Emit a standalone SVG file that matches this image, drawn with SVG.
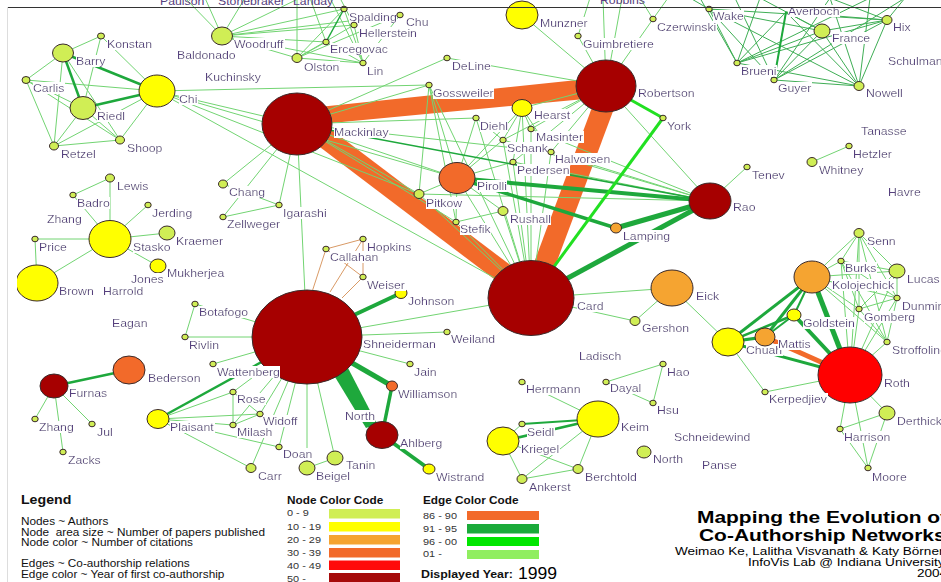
<svg xmlns="http://www.w3.org/2000/svg" width="941" height="582" viewBox="0 0 941 582">
<defs>
<filter id="bg" x="0" y="0" width="1" height="1"><feFlood flood-color="#ffffff"/><feComposite in="SourceGraphic" operator="over"/></filter>
<clipPath id="clipL"><rect x="17" y="0" width="924" height="582"/></clipPath>
<style>
text { font-family: "Liberation Sans", Arial, sans-serif; }
.l, .lt { font-size: 10.5px; fill: #56407e; transform: scaleX(1.17); transform-box: fill-box; transform-origin: 0 0; }
.l { filter: url(#bg); }
.k { font-size: 10px; fill: #111; transform: scaleX(1.18); transform-box: fill-box; transform-origin: 0 0; }
.kh { font-size: 10px; font-weight: bold; fill: #111; transform: scaleX(1.18); transform-box: fill-box; transform-origin: 0 0; }
.ks { font-size: 9.5px; fill: #333; transform: scaleX(1.15); transform-box: fill-box; transform-origin: 0 0; }
.ttl { font-size: 16.5px; font-weight: bold; fill: #000; transform: scaleX(1.27); transform-box: fill-box; transform-origin: 0 0; }
.sub { font-size: 11.5px; fill: #000; transform: scaleX(1.18); transform-box: fill-box; transform-origin: 0 0; }
.e { stroke: #72d472; stroke-width: 1; }
.e2 { stroke: #3fae55; stroke-width: 1; }
.g { stroke: #1ea83c; }
.b { stroke: #22e022; }
.o { stroke: #f26a2a; }
.t { stroke: #d99a66; stroke-width: 1; }
ellipse { stroke: #3a2a2a; stroke-width: 1; }
.c0 { fill: #d0ee55; } .c1 { fill: #ffff00; } .c2 { fill: #f5a431; }
.c3 { fill: #f26a2a; } .c4 { fill: #ff0000; } .c5 { fill: #a60000; }
</style>
</defs>
<rect width="941" height="582" fill="#ffffff"/>

<!-- connectors -->
<g id="connectors" fill="none">
  <!-- 86-90: thick collaboration bands -->
  <g id="e-orange">
    <polygon points="300,109 606,77 606,97 300,126" fill="#f26a2a"/>
    <line class="o" x1="312" y1="128" x2="510" y2="278" stroke-width="21"/>
    <line class="o" x1="606" y1="100" x2="535" y2="290" stroke-width="21"/>
    <line class="o" x1="765" y1="337" x2="850" y2="375" stroke-width="5"/>
  </g>
  <g id="e-tan" class="t">
    <line x1="326" y1="249" x2="363" y2="239"/><line x1="326" y1="249" x2="363" y2="277"/>
    <line x1="363" y1="239" x2="363" y2="277"/><line x1="326" y1="249" x2="312" y2="292"/>
    <line x1="363" y1="239" x2="330" y2="292"/><line x1="363" y1="277" x2="342" y2="298"/>
  </g>
  <!-- thin edges -->
  <g id="e-thin" class="e">
    <line x1="101" y1="36" x2="63" y2="53"/><line x1="101" y1="36" x2="157" y2="91"/>
    <line x1="101" y1="36" x2="83" y2="108"/><line x1="63" y1="53" x2="26" y2="80"/>
    <line x1="63" y1="53" x2="54" y2="146"/><line x1="63" y1="53" x2="120" y2="140"/>
    <line x1="26" y1="80" x2="157" y2="91"/><line x1="26" y1="80" x2="54" y2="146"/>
    <line x1="26" y1="80" x2="120" y2="140"/><line x1="26" y1="80" x2="83" y2="108"/>
    <line x1="83" y1="108" x2="54" y2="146"/><line x1="83" y1="108" x2="120" y2="140"/>
    <line x1="54" y1="146" x2="120" y2="140"/><line x1="54" y1="146" x2="157" y2="91"/>
    <line x1="120" y1="140" x2="157" y2="91"/>
    <line x1="157" y1="91" x2="429" y2="85"/><line x1="157" y1="91" x2="297" y2="124"/>
    <line x1="157" y1="91" x2="457" y2="178"/><line x1="157" y1="91" x2="419" y2="194"/>
    <line x1="157" y1="91" x2="531" y2="298"/>
    <line x1="222" y1="36" x2="185" y2="-2"/><line x1="222" y1="36" x2="205" y2="-2"/>
    <line x1="222" y1="36" x2="245" y2="-2"/><line x1="222" y1="36" x2="300" y2="-2"/>
    <line x1="222" y1="36" x2="297" y2="58"/><line x1="222" y1="36" x2="326" y2="42"/>
    <line x1="222" y1="36" x2="354" y2="25"/><line x1="222" y1="36" x2="344" y2="9"/>
    <line x1="222" y1="36" x2="400" y2="15"/><line x1="222" y1="36" x2="363" y2="63"/>
    <line x1="297" y1="58" x2="297" y2="-2"/><line x1="297" y1="58" x2="344" y2="9"/>
    <line x1="297" y1="58" x2="400" y2="15"/><line x1="297" y1="58" x2="354" y2="25"/>
    <line x1="297" y1="58" x2="326" y2="42"/><line x1="297" y1="58" x2="363" y2="63"/>
    <line x1="344" y1="9" x2="363" y2="63"/><line x1="400" y1="15" x2="363" y2="63"/>
    <line x1="354" y1="25" x2="363" y2="63"/><line x1="326" y1="42" x2="363" y2="63"/>
    <line x1="354" y1="25" x2="340" y2="-2"/><line x1="363" y1="63" x2="330" y2="-2"/>
    <line x1="326" y1="42" x2="310" y2="-2"/>
    <line x1="297" y1="124" x2="223" y2="184"/><line x1="297" y1="124" x2="223" y2="217"/>
    <line x1="297" y1="124" x2="279" y2="205"/><line x1="297" y1="124" x2="307" y2="337"/>
    <line x1="297" y1="124" x2="447" y2="58"/><line x1="297" y1="124" x2="429" y2="85"/>
    <line x1="297" y1="124" x2="419" y2="194"/><line x1="297" y1="124" x2="457" y2="178"/>
    <line x1="297" y1="124" x2="456" y2="222"/><line x1="297" y1="124" x2="551" y2="152"/>
    <line x1="297" y1="124" x2="476" y2="118"/>
    <line x1="223" y1="184" x2="279" y2="205"/><line x1="223" y1="217" x2="279" y2="205"/>
    <line x1="606" y1="86" x2="522" y2="15"/><line x1="606" y1="86" x2="578" y2="36"/>
    <line x1="606" y1="86" x2="653" y2="19"/><line x1="606" y1="86" x2="603" y2="-2"/>
    <line x1="606" y1="86" x2="622" y2="-2"/><line x1="606" y1="86" x2="447" y2="58"/>
    <line x1="606" y1="86" x2="522" y2="108"/><line x1="606" y1="86" x2="531" y2="129"/>
    <line x1="606" y1="86" x2="551" y2="152"/><line x1="606" y1="86" x2="513" y2="162"/>
    <line x1="606" y1="86" x2="503" y2="140"/><line x1="606" y1="86" x2="710" y2="201"/>
    <line x1="653" y1="19" x2="640" y2="-2"/><line x1="653" y1="19" x2="668" y2="-2"/>
    <line x1="578" y1="36" x2="590" y2="-2"/>
    <line x1="522" y1="108" x2="531" y2="129"/><line x1="522" y1="108" x2="503" y2="140"/>
    <line x1="522" y1="108" x2="513" y2="162"/><line x1="522" y1="108" x2="457" y2="178"/>
    <line x1="522" y1="108" x2="531" y2="298"/><line x1="522" y1="108" x2="551" y2="152"/>
    <line x1="476" y1="118" x2="503" y2="140"/><line x1="476" y1="118" x2="457" y2="178"/>
    <line x1="476" y1="118" x2="531" y2="298"/>
    <line x1="531" y1="129" x2="531" y2="298"/><line x1="503" y1="140" x2="531" y2="298"/>
    <line x1="513" y1="162" x2="531" y2="298"/><line x1="551" y1="152" x2="531" y2="298"/>
    <line x1="429" y1="85" x2="419" y2="194"/><line x1="429" y1="85" x2="457" y2="178"/>
    <line x1="429" y1="85" x2="531" y2="298"/><line x1="429" y1="85" x2="456" y2="222"/>
    <line x1="457" y1="178" x2="419" y2="194"/><line x1="457" y1="178" x2="456" y2="222"/>
    <line x1="457" y1="178" x2="531" y2="298"/><line x1="457" y1="178" x2="503" y2="211"/>
    <line x1="457" y1="178" x2="503" y2="140"/><line x1="457" y1="178" x2="513" y2="162"/>
    <line x1="419" y1="194" x2="531" y2="298"/><line x1="419" y1="194" x2="710" y2="201"/>
    <line x1="456" y1="222" x2="503" y2="211"/><line x1="456" y1="222" x2="531" y2="298"/>
    <line x1="503" y1="211" x2="531" y2="298"/>
    <line x1="710" y1="201" x2="513" y2="162"/><line x1="710" y1="201" x2="551" y2="152"/>
    <line x1="710" y1="201" x2="503" y2="140"/><line x1="710" y1="201" x2="531" y2="129"/>
    <line x1="710" y1="201" x2="747" y2="167"/>
    <line x1="849" y1="146" x2="812" y2="162"/>
    <line x1="110" y1="239" x2="110" y2="178"/><line x1="110" y1="178" x2="73" y2="195"/>
    <line x1="73" y1="195" x2="110" y2="239"/><line x1="110" y1="239" x2="148" y2="205"/>
    <line x1="110" y1="239" x2="167" y2="233"/><line x1="110" y1="239" x2="158" y2="266"/>
    <line x1="110" y1="239" x2="37" y2="283"/><line x1="110" y1="239" x2="35" y2="239"/>
    <line x1="35" y1="239" x2="37" y2="283"/>
    <line x1="307" y1="337" x2="195" y2="304"/><line x1="195" y1="304" x2="185" y2="337"/>
    <line x1="185" y1="337" x2="307" y2="337"/><line x1="213" y1="364" x2="307" y2="337"/>
    <line x1="307" y1="337" x2="233" y2="392"/><line x1="307" y1="337" x2="260" y2="414"/>
    <line x1="307" y1="337" x2="233" y2="425"/><line x1="307" y1="337" x2="279" y2="447"/>
    <line x1="307" y1="337" x2="251" y2="468"/><line x1="307" y1="337" x2="307" y2="468"/>
    <line x1="307" y1="337" x2="335" y2="458"/><line x1="307" y1="337" x2="410" y2="364"/>
    <line x1="307" y1="337" x2="447" y2="332"/><line x1="307" y1="337" x2="531" y2="298"/>
    <line x1="158" y1="419" x2="233" y2="392"/><line x1="158" y1="419" x2="260" y2="414"/>
    <line x1="158" y1="419" x2="233" y2="425"/><line x1="158" y1="419" x2="279" y2="447"/>
    <line x1="158" y1="419" x2="251" y2="468"/>
    <line x1="233" y1="392" x2="233" y2="425"/><line x1="233" y1="392" x2="260" y2="414"/>
    <line x1="233" y1="425" x2="260" y2="414"/><line x1="335" y1="458" x2="307" y2="468"/>
    <line x1="54" y1="386" x2="35" y2="419"/><line x1="54" y1="386" x2="92" y2="424"/>
    <line x1="54" y1="386" x2="63" y2="452"/>
    <line x1="531" y1="298" x2="672" y2="288"/><line x1="531" y1="298" x2="635" y2="321"/>
    <line x1="672" y1="288" x2="635" y2="321"/><line x1="672" y1="288" x2="728" y2="342"/>
    <line x1="728" y1="342" x2="765" y2="392"/><line x1="765" y1="392" x2="850" y2="375"/>
    <line x1="812" y1="277" x2="859" y2="233"/><line x1="812" y1="277" x2="841" y2="261"/>
    <line x1="812" y1="277" x2="897" y2="271"/><line x1="812" y1="277" x2="897" y2="298"/>
    <line x1="812" y1="277" x2="859" y2="309"/><line x1="812" y1="277" x2="887" y2="342"/>
    <line x1="859" y1="233" x2="841" y2="261"/><line x1="859" y1="233" x2="897" y2="271"/>
    <line x1="859" y1="233" x2="897" y2="298"/><line x1="859" y1="233" x2="859" y2="309"/>
    <line x1="859" y1="233" x2="887" y2="342"/>
    <line x1="841" y1="261" x2="897" y2="271"/><line x1="841" y1="261" x2="897" y2="298"/>
    <line x1="841" y1="261" x2="859" y2="309"/><line x1="841" y1="261" x2="887" y2="342"/>
    <line x1="897" y1="271" x2="897" y2="298"/><line x1="897" y1="271" x2="859" y2="309"/>
    <line x1="897" y1="298" x2="859" y2="309"/><line x1="897" y1="298" x2="887" y2="342"/>
    <line x1="859" y1="309" x2="887" y2="342"/>
    <line x1="850" y1="375" x2="859" y2="233"/><line x1="850" y1="375" x2="841" y2="261"/>
    <line x1="850" y1="375" x2="859" y2="309"/><line x1="850" y1="375" x2="897" y2="298"/>
    <line x1="850" y1="375" x2="887" y2="342"/><line x1="850" y1="375" x2="897" y2="271"/>
    <line x1="850" y1="375" x2="887" y2="413"/><line x1="850" y1="375" x2="840" y2="429"/>
    <line x1="850" y1="375" x2="868" y2="468"/><line x1="887" y1="413" x2="840" y2="429"/>
    <line x1="887" y1="413" x2="868" y2="468"/><line x1="840" y1="429" x2="868" y2="468"/>
    <line x1="598" y1="419" x2="522" y2="382"/><line x1="598" y1="419" x2="578" y2="469"/>
    <line x1="598" y1="419" x2="522" y2="479"/><line x1="503" y1="441" x2="522" y2="424"/>
    <line x1="503" y1="441" x2="522" y2="479"/><line x1="503" y1="441" x2="578" y2="469"/>
    <line x1="522" y1="479" x2="578" y2="469"/>
    <line x1="663" y1="364" x2="606" y2="382"/><line x1="663" y1="364" x2="653" y2="403"/>
    <line x1="606" y1="382" x2="653" y2="403"/>
  </g>
  <!-- dense group at the top right -->
  <g id="e-thin-dark" class="e2">
    <line x1="709" y1="9" x2="737" y2="63"/><line x1="709" y1="9" x2="774" y2="80"/>
    <line x1="709" y1="9" x2="822" y2="31"/><line x1="709" y1="9" x2="887" y2="20"/>
    <line x1="709" y1="9" x2="859" y2="86"/>
    <line x1="786" y1="12" x2="737" y2="63"/><line x1="786" y1="12" x2="859" y2="86"/>
    <line x1="786" y1="12" x2="887" y2="20"/><line x1="786" y1="12" x2="822" y2="31"/>
    <line x1="822" y1="31" x2="737" y2="63"/><line x1="822" y1="31" x2="774" y2="80"/>
    <line x1="822" y1="31" x2="859" y2="86"/><line x1="822" y1="31" x2="887" y2="20"/>
    <line x1="887" y1="20" x2="737" y2="63"/><line x1="887" y1="20" x2="774" y2="80"/>
    <line x1="887" y1="20" x2="859" y2="86"/>
    <line x1="737" y1="63" x2="859" y2="86"/><line x1="774" y1="80" x2="859" y2="86"/>
    <line x1="737" y1="63" x2="700" y2="-2"/><line x1="737" y1="63" x2="760" y2="-2"/>
    <line x1="774" y1="80" x2="735" y2="-2"/><line x1="774" y1="80" x2="830" y2="-2"/>
    <line x1="859" y1="86" x2="830" y2="-2"/><line x1="859" y1="86" x2="870" y2="-2"/>
    <line x1="822" y1="31" x2="760" y2="-2"/><line x1="887" y1="20" x2="830" y2="-2"/>
    <line x1="887" y1="20" x2="905" y2="-2"/><line x1="737" y1="63" x2="870" y2="-2"/>
    <line x1="709" y1="9" x2="690" y2="-2"/><line x1="774" y1="80" x2="905" y2="-2"/>
  </g>
  <!-- 91-95: dark green -->
  <g id="e-green" class="g">
    <line x1="63" y1="53" x2="83" y2="108" stroke-width="2.5"/>
    <line x1="63" y1="53" x2="157" y2="91" stroke-width="2.5"/>
    <line x1="83" y1="108" x2="157" y2="91" stroke-width="2.5"/>
    <line x1="326" y1="42" x2="344" y2="9" stroke-width="1.5"/>
    <line x1="786" y1="12" x2="774" y2="80" stroke-width="2"/>
    <line x1="297" y1="124" x2="710" y2="201" stroke-width="1.6"/>
    <line x1="457" y1="178" x2="710" y2="201" stroke-width="4"/>
    <line x1="457" y1="178" x2="616" y2="228" stroke-width="3.5"/>
    <line x1="616" y1="228" x2="710" y2="201" stroke-width="5"/>
    <line x1="531" y1="298" x2="710" y2="201" stroke-width="5"/>
    <line x1="307" y1="337" x2="158" y2="419" stroke-width="2.5"/>
    <line x1="307" y1="337" x2="401" y2="293" stroke-width="4"/>
    <line x1="307" y1="337" x2="392" y2="386" stroke-width="5"/>
    <line x1="392" y1="386" x2="382" y2="435" stroke-width="3.5"/>
    <line x1="382" y1="435" x2="429" y2="469" stroke-width="4"/>
    <polygon points="332,372 348,368 377,424 366,428" fill="#1ea83c" stroke="none"/>
    <line x1="54" y1="386" x2="129" y2="370" stroke-width="2.5"/>
    <line x1="728" y1="342" x2="812" y2="277" stroke-width="3"/>
    <line x1="728" y1="342" x2="794" y2="315" stroke-width="2.5"/>
    <line x1="728" y1="342" x2="765" y2="337" stroke-width="3"/>
    <line x1="765" y1="337" x2="812" y2="277" stroke-width="3"/>
    <line x1="765" y1="337" x2="794" y2="315" stroke-width="2"/>
    <line x1="794" y1="315" x2="812" y2="277" stroke-width="2"/>
    <line x1="794" y1="315" x2="850" y2="375" stroke-width="4"/>
    <line x1="812" y1="277" x2="850" y2="375" stroke-width="5"/>
    <line x1="728" y1="342" x2="850" y2="375" stroke-width="3"/>
    <line x1="598" y1="419" x2="503" y2="441" stroke-width="2.5"/>
    <line x1="598" y1="419" x2="522" y2="424" stroke-width="1.8"/>
  </g>
  <!-- 96-00: bright green -->
  <g id="e-bright" class="b">
    <line x1="606" y1="86" x2="663" y2="118" stroke-width="3"/>
    <line x1="663" y1="118" x2="531" y2="298" stroke-width="3"/>
  </g>
</g>

<!-- author nodes -->
<g id="nodes">
  <g id="n-mackinlay"><ellipse class="c5" cx="297" cy="124" rx="35" ry="31"/><text class="l" x="334" y="136">Mackinlay</text></g>
  <g id="n-robertson"><ellipse class="c5" cx="606" cy="86" rx="30" ry="26"/><text class="l" x="638" y="97">Robertson</text></g>
  <g id="n-card"><ellipse class="c5" cx="531" cy="298" rx="43" ry="37.5"/><text class="l" x="577" y="310">Card</text></g>
  <g id="n-shneiderman"><ellipse class="c5" cx="307" cy="337" rx="55" ry="47"/><text class="l" x="363" y="348">Shneiderman</text></g>
  <g id="n-rao"><ellipse class="c5" cx="710" cy="201" rx="21" ry="18"/><text class="l" x="733" y="211">Rao</text></g>
  <g id="n-ahlberg"><ellipse class="c5" cx="382" cy="435" rx="16" ry="13.5"/><text class="l" x="400" y="447">Ahlberg</text></g>
  <g id="n-furnas"><ellipse class="c5" cx="54" cy="386" rx="14" ry="12"/><text class="l" x="69" y="397">Furnas</text></g>
  <g id="n-roth"><ellipse class="c4" cx="850" cy="375" rx="32" ry="28"/><text class="l" x="884" y="387">Roth</text></g>
  <g id="n-pirolli"><ellipse class="c3" cx="457" cy="178" rx="18" ry="15.5"/><text class="l" x="477" y="190">Pirolli</text></g>
  <g id="n-bederson"><ellipse class="c3" cx="129" cy="370" rx="16" ry="14"/><text class="l" x="148" y="382">Bederson</text></g>
  <g id="n-williamson"><ellipse class="c3" cx="392" cy="386" rx="5.5" ry="5"/><text class="l" x="398" y="398">Williamson</text></g>
  <g id="n-eick"><ellipse class="c2" cx="672" cy="288" rx="21" ry="18"/><text class="l" x="696" y="300">Eick</text></g>
  <g id="n-kolojechick"><ellipse class="c2" cx="812" cy="277" rx="18" ry="16"/><text class="l" x="832" y="289">Kolojechick</text></g>
  <g id="n-lamping"><ellipse class="c2" cx="616" cy="228" rx="5.5" ry="5"/><text class="l" x="623" y="240">Lamping</text></g>
  <g id="n-chi"><ellipse class="c1" cx="157" cy="91" rx="18" ry="16"/><text class="l" x="179" y="103">Chi</text></g>
  <g id="n-stasko"><ellipse class="c1" cx="110" cy="239" rx="21" ry="18.5"/><text class="l" x="133" y="251">Stasko</text></g>
  <g id="n-brown"><ellipse class="c1" cx="37" cy="283" rx="21" ry="18" clip-path="url(#clipL)"/><text class="l" x="59" y="295">Brown</text></g>
  <g id="n-munzner"><ellipse class="c1" cx="522" cy="15" rx="16" ry="14"/><text class="l" x="540" y="27">Munzner</text></g>
  <g id="n-hearst"><ellipse class="c1" cx="522" cy="108" rx="10" ry="8.5"/><text class="l" x="534" y="119">Hearst</text></g>
  <g id="n-keim"><ellipse class="c1" cx="598" cy="419" rx="21" ry="18"/><text class="l" x="621" y="431">Keim</text></g>
  <g id="n-kriegel"><ellipse class="c1" cx="503" cy="441" rx="16" ry="14"/><text class="l" x="521" y="453">Kriegel</text></g>
  <g id="n-chuah"><ellipse class="c1" cx="728" cy="342" rx="16" ry="14"/><text class="l" x="746" y="354">Chuah</text></g>
  <g id="n-mattis"><ellipse class="c2" cx="765" cy="337" rx="10" ry="9"/><text class="l" x="778" y="348">Mattis</text></g>
  <g id="n-goldstein"><ellipse class="c1" cx="794" cy="315" rx="7" ry="6"/><text class="l" x="803" y="327">Goldstein</text></g>
  <g id="n-plaisant"><ellipse class="c1" cx="158" cy="419" rx="11" ry="9.5"/><text class="l" x="170" y="431">Plaisant</text></g>
  <g id="n-johnson"><ellipse class="c1" cx="401" cy="293" rx="6" ry="5.5"/><text class="l" x="408" y="305">Johnson</text></g>
  <g id="n-wistrand"><ellipse class="c1" cx="429" cy="469" rx="6" ry="5"/><text class="l" x="436" y="481">Wistrand</text></g>
  <g id="n-mukherjea"><ellipse class="c1" cx="158" cy="266" rx="8" ry="7"/><text class="l" x="167" y="277">Mukherjea</text></g>
  <g id="n-barry"><ellipse class="c0" cx="63" cy="53" rx="10.5" ry="9"/><text class="l" x="76" y="65">Barry</text></g>
  <g id="n-riedl"><ellipse class="c0" cx="83" cy="108" rx="13" ry="11.5"/><text class="l" x="97" y="120">Riedl</text></g>
  <g id="n-woodruff"><ellipse class="c0" cx="222" cy="36" rx="10.5" ry="9"/><text class="l" x="234" y="48">Woodruff</text></g>
  <g id="n-kraemer"><ellipse class="c0" cx="167" cy="233" rx="8" ry="7"/><text class="l" x="176" y="245">Kraemer</text></g>
  <g id="n-france"><ellipse class="c0" cx="822" cy="31" rx="8" ry="7"/><text class="l" x="832" y="42">France</text></g>
  <g id="n-lucas"><ellipse class="c0" cx="897" cy="271" rx="8" ry="7"/><text class="l" x="907" y="283">Lucas</text></g>
  <g id="n-derthick"><ellipse class="c0" cx="887" cy="413" rx="8" ry="7"/><text class="l" x="897" y="425">Derthick</text></g>
  <g id="n-beigel"><ellipse class="c0" cx="307" cy="468" rx="8" ry="7"/><text class="l" x="316" y="480">Beigel</text></g>
  <g id="n-tanin"><ellipse class="c0" cx="335" cy="458" rx="8" ry="7"/><text class="l" x="346" y="469">Tanin</text></g>
  <g id="n-north-b"><ellipse class="c0" cx="644" cy="452" rx="7" ry="6"/><text class="l" x="653" y="463">North</text></g>
  <g id="n-konstan"><ellipse class="c0" cx="101" cy="36" rx="3.5" ry="3"/><text class="l" x="107" y="48">Konstan</text></g>
  <g id="n-carlis"><ellipse class="c0" cx="26" cy="80" rx="4" ry="3.5"/><text class="l" x="33" y="92">Carlis</text></g>
  <g id="n-retzel"><ellipse class="c0" cx="54" cy="146" rx="4.5" ry="4"/><text class="l" x="61" y="158">Retzel</text></g>
  <g id="n-shoop"><ellipse class="c0" cx="120" cy="140" rx="4.5" ry="4"/><text class="l" x="127" y="152">Shoop</text></g>
  <g id="n-olston"><ellipse class="c0" cx="297" cy="58" rx="5" ry="4.5"/><text class="l" x="304" y="71">Olston</text></g>
  <g id="n-ercegovac"><ellipse class="c0" cx="326" cy="42" rx="3.2" ry="2.8"/><text class="l" x="330" y="53">Ercegovac</text></g>
  <g id="n-spalding"><ellipse class="c0" cx="344" cy="9" rx="3.2" ry="2.8"/><text class="l" x="349" y="21">Spalding</text></g>
  <g id="n-chu"><ellipse class="c0" cx="400" cy="15" rx="3.2" ry="2.8"/><text class="l" x="406" y="26">Chu</text></g>
  <g id="n-hellerstein"><ellipse class="c0" cx="354" cy="25" rx="3.2" ry="2.8"/><text class="l" x="359" y="37">Hellerstein</text></g>
  <g id="n-lin"><ellipse class="c0" cx="363" cy="63" rx="3.2" ry="2.8"/><text class="l" x="367" y="75">Lin</text></g>
  <g id="n-deline"><ellipse class="c0" cx="447" cy="58" rx="3.2" ry="2.8"/><text class="l" x="452" y="70">DeLine</text></g>
  <g id="n-gossweiler"><ellipse class="c0" cx="429" cy="85" rx="3.2" ry="2.8"/><text class="l" x="433" y="97">Gossweiler</text></g>
  <g id="n-guimbretiere"><ellipse class="c0" cx="578" cy="36" rx="3.2" ry="2.8"/><text class="l" x="583" y="48">Guimbretiere</text></g>
  <g id="n-diehl"><ellipse class="c0" cx="476" cy="118" rx="3.2" ry="2.8"/><text class="l" x="480" y="130">Diehl</text></g>
  <g id="n-masinter"><ellipse class="c0" cx="531" cy="129" rx="3.2" ry="2.8"/><text class="l" x="536" y="141">Masinter</text></g>
  <g id="n-schank"><ellipse class="c0" cx="503" cy="140" rx="3.2" ry="2.8"/><text class="l" x="507" y="152">Schank</text></g>
  <g id="n-halvorsen"><ellipse class="c0" cx="551" cy="152" rx="3.2" ry="2.8"/><text class="l" x="555" y="163">Halvorsen</text></g>
  <g id="n-pedersen"><ellipse class="c0" cx="513" cy="162" rx="3.2" ry="2.8"/><text class="l" x="517" y="174">Pedersen</text></g>
  <g id="n-pitkow"><ellipse class="c0" cx="419" cy="194" rx="5" ry="4.5"/><text class="l" x="426" y="207">Pitkow</text></g>
  <g id="n-rushall"><ellipse class="c0" cx="503" cy="211" rx="5" ry="4.5"/><text class="l" x="510" y="223">Rushall</text></g>
  <g id="n-stefik"><ellipse class="c0" cx="456" cy="222" rx="3.2" ry="2.8"/><text class="l" x="460" y="233">Stefik</text></g>
  <g id="n-york"><ellipse class="c0" cx="663" cy="118" rx="3.2" ry="2.8"/><text class="l" x="667" y="130">York</text></g>
  <g id="n-tenev"><ellipse class="c0" cx="747" cy="167" rx="3.2" ry="2.8"/><text class="l" x="752" y="179">Tenev</text></g>
  <g id="n-czerwinski"><ellipse class="c0" cx="653" cy="19" rx="3.2" ry="2.8"/><text class="l" x="657" y="31">Czerwinski</text></g>
  <g id="n-wake"><ellipse class="c0" cx="709" cy="9" rx="3.2" ry="2.8"/><text class="l" x="713" y="20">Wake</text></g>
  <g id="n-hix"><ellipse class="c0" cx="887" cy="20" rx="5" ry="4.5"/><text class="l" x="893" y="31">Hix</text></g>
  <g id="n-brueni"><ellipse class="c0" cx="737" cy="63" rx="3.2" ry="2.8"/><text class="l" x="741" y="75">Brueni</text></g>
  <g id="n-guyer"><ellipse class="c0" cx="774" cy="80" rx="3.2" ry="2.8"/><text class="l" x="778" y="92">Guyer</text></g>
  <g id="n-nowell"><ellipse class="c0" cx="859" cy="86" rx="5" ry="4.5"/><text class="l" x="866" y="97">Nowell</text></g>
  <g id="n-hetzler"><ellipse class="c0" cx="849" cy="146" rx="3.2" ry="2.8"/><text class="l" x="853" y="158">Hetzler</text></g>
  <g id="n-whitney"><ellipse class="c0" cx="812" cy="162" rx="5" ry="4.5"/><text class="l" x="819" y="174">Whitney</text></g>
  <g id="n-lewis"><ellipse class="c0" cx="110" cy="178" rx="4.5" ry="4"/><text class="l" x="117" y="190">Lewis</text></g>
  <g id="n-badro"><ellipse class="c0" cx="73" cy="195" rx="3.2" ry="2.8"/><text class="l" x="77" y="207">Badro</text></g>
  <g id="n-jerding"><ellipse class="c0" cx="148" cy="205" rx="3.2" ry="2.8"/><text class="l" x="152" y="217">Jerding</text></g>
  <g id="n-price"><ellipse class="c0" cx="35" cy="239" rx="3.2" ry="2.8"/><text class="l" x="39" y="251">Price</text></g>
  <g id="n-chang"><ellipse class="c0" cx="223" cy="184" rx="4.5" ry="4"/><text class="l" x="229" y="196">Chang</text></g>
  <g id="n-zellweger"><ellipse class="c0" cx="223" cy="217" rx="3.2" ry="2.8"/><text class="l" x="227" y="228">Zellweger</text></g>
  <g id="n-igarashi"><ellipse class="c0" cx="279" cy="205" rx="3.2" ry="2.8"/><text class="l" x="283" y="217">Igarashi</text></g>
  <g id="n-botafogo"><ellipse class="c0" cx="195" cy="304" rx="3.2" ry="2.8"/><text class="l" x="199" y="316">Botafogo</text></g>
  <g id="n-rivlin"><ellipse class="c0" cx="185" cy="337" rx="3.2" ry="2.8"/><text class="l" x="189" y="349">Rivlin</text></g>
  <g id="n-hopkins"><ellipse class="c0" cx="363" cy="239" rx="3.2" ry="2.8"/><text class="l" x="367" y="251">Hopkins</text></g>
  <g id="n-callahan"><ellipse class="c0" cx="326" cy="249" rx="3.2" ry="2.8"/><text class="l" x="330" y="261">Callahan</text></g>
  <g id="n-weiser"><ellipse class="c0" cx="363" cy="277" rx="3.2" ry="2.8"/><text class="l" x="367" y="289">Weiser</text></g>
  <g id="n-weiland"><ellipse class="c0" cx="447" cy="332" rx="3.2" ry="2.8"/><text class="l" x="451" y="343">Weiland</text></g>
  <g id="n-jain"><ellipse class="c0" cx="410" cy="364" rx="3.2" ry="2.8"/><text class="l" x="414" y="376">Jain</text></g>
  <g id="n-wattenberg"><ellipse class="c0" cx="213" cy="364" rx="3.2" ry="2.8"/><text class="l" x="217" y="376">Wattenberg</text></g>
  <g id="n-zhang-b"><ellipse class="c0" cx="35" cy="419" rx="3.2" ry="2.8"/><text class="l" x="39" y="431">Zhang</text></g>
  <g id="n-jul"><ellipse class="c0" cx="92" cy="424" rx="3.2" ry="2.8"/><text class="l" x="97" y="436">Jul</text></g>
  <g id="n-zacks"><ellipse class="c0" cx="63" cy="452" rx="3.2" ry="2.8"/><text class="l" x="68" y="464">Zacks</text></g>
  <g id="n-rose"><ellipse class="c0" cx="233" cy="392" rx="3.2" ry="2.8"/><text class="l" x="237" y="403">Rose</text></g>
  <g id="n-widoff"><ellipse class="c0" cx="260" cy="414" rx="3.2" ry="2.8"/><text class="l" x="263" y="425">Widoff</text></g>
  <g id="n-milash"><ellipse class="c0" cx="233" cy="425" rx="3.2" ry="2.8"/><text class="l" x="237" y="436">Milash</text></g>
  <g id="n-doan"><ellipse class="c0" cx="279" cy="447" rx="3.2" ry="2.8"/><text class="l" x="283" y="458">Doan</text></g>
  <g id="n-carr"><ellipse class="c0" cx="251" cy="468" rx="5" ry="4.5"/><text class="l" x="258" y="480">Carr</text></g>
  <g id="n-herrmann"><ellipse class="c0" cx="522" cy="382" rx="3.2" ry="2.8"/><text class="l" x="526" y="393">Herrmann</text></g>
  <g id="n-dayal"><ellipse class="c0" cx="606" cy="382" rx="3.2" ry="2.8"/><text class="l" x="610" y="392">Dayal</text></g>
  <g id="n-hao"><ellipse class="c0" cx="663" cy="364" rx="3.2" ry="2.8"/><text class="l" x="667" y="376">Hao</text></g>
  <g id="n-hsu"><ellipse class="c0" cx="653" cy="403" rx="3.2" ry="2.8"/><text class="l" x="657" y="414">Hsu</text></g>
  <g id="n-seidl"><ellipse class="c0" cx="522" cy="424" rx="3.2" ry="2.8"/><text class="l" x="527" y="436">Seidl</text></g>
  <g id="n-berchtold"><ellipse class="c0" cx="578" cy="469" rx="5" ry="4.5"/><text class="l" x="585" y="481">Berchtold</text></g>
  <g id="n-ankerst"><ellipse class="c0" cx="522" cy="479" rx="5" ry="4.5"/><text class="l" x="529" y="491">Ankerst</text></g>
  <g id="n-gershon"><ellipse class="c0" cx="635" cy="321" rx="5" ry="4.5"/><text class="l" x="642" y="332">Gershon</text></g>
  <g id="n-senn"><ellipse class="c0" cx="859" cy="233" rx="5" ry="4.5"/><text class="l" x="867" y="245">Senn</text></g>
  <g id="n-burks"><ellipse class="c0" cx="841" cy="261" rx="3.2" ry="2.8"/><text class="l" x="845" y="272">Burks</text></g>
  <g id="n-dunmire"><ellipse class="c0" cx="897" cy="298" rx="3.2" ry="2.8"/><text class="l" x="902" y="310">Dunmire</text></g>
  <g id="n-gomberg"><ellipse class="c0" cx="859" cy="309" rx="3.2" ry="2.8"/><text class="l" x="864" y="321">Gomberg</text></g>
  <g id="n-stroffolino"><ellipse class="c0" cx="887" cy="342" rx="3.2" ry="2.8"/><text class="l" x="892" y="354">Stroffolino</text></g>
  <g id="n-kerpedjiev"><ellipse class="c0" cx="765" cy="392" rx="3.2" ry="2.8"/><text class="l" x="769" y="403">Kerpedjiev</text></g>
  <g id="n-harrison"><ellipse class="c0" cx="840" cy="429" rx="3.2" ry="2.8"/><text class="l" x="844" y="441">Harrison</text></g>
  <g id="n-moore"><ellipse class="c0" cx="868" cy="468" rx="3.2" ry="2.8"/><text class="l" x="872" y="481">Moore</text></g>
  <!-- authors with no edges at this year -->
  <g id="n-baldonado"><text class="l" x="177" y="59">Baldonado</text></g>
  <g id="n-kuchinsky"><text class="l" x="205" y="81">Kuchinsky</text></g>
  <g id="n-zhang-a"><text class="l" x="47" y="223">Zhang</text></g>
  <g id="n-jones"><text class="l" x="131" y="283">Jones</text></g>
  <g id="n-harrold"><text class="l" x="103" y="295">Harrold</text></g>
  <g id="n-eagan"><text class="l" x="112" y="327">Eagan</text></g>
  <g id="n-north-a"><text class="l" x="345" y="420">North</text></g>
  <g id="n-ladisch"><text class="l" x="579" y="360">Ladisch</text></g>
  <g id="n-schneidewind"><text class="l" x="674" y="441">Schneidewind</text></g>
  <g id="n-panse"><text class="l" x="702" y="469">Panse</text></g>
  <g id="n-tanasse"><text class="l" x="861" y="135">Tanasse</text></g>
  <g id="n-havre"><text class="l" x="888" y="196">Havre</text></g>
  <g id="n-schulman"><text class="l" x="888" y="65">Schulman</text></g>
  <g id="n-averboch"><text class="l" x="788" y="15">Averboch</text></g>
  <g id="n-paulson"><text class="lt" x="160" y="5">Paulson</text></g>
  <g id="n-stonebraker"><text class="lt" x="218" y="5">Stonebraker</text></g>
  <g id="n-landay"><text class="lt" x="293" y="5">Landay</text></g>
  <g id="n-robbins"><text class="lt" x="600" y="4">Robbins</text></g>
</g>

<!-- frame -->
<line x1="7" y1="7.5" x2="941" y2="7.5" stroke="#333" stroke-width="1"/>
<line x1="7.5" y1="7" x2="7.5" y2="582" stroke="#dddddd" stroke-width="1"/>

<!-- legend -->
<g id="legend">
  <text class="kh" x="21" y="504" style="font-size:12px">Legend</text>
  <text class="k" x="21" y="525">Nodes ~ Authors</text>
  <text class="k" x="21" y="536">Node&#160; area size ~ Number of papers published</text>
  <text class="k" x="21" y="546">Node color ~ Number of citations</text>
  <text class="k" x="21" y="567">Edges ~ Co-authorship relations</text>
  <text class="k" x="21" y="578">Edge color ~ Year of first co-authorship</text>
</g>
<g id="node-color-code">
  <text class="kh" x="287" y="504">Node Color Code</text>
  <text class="ks" x="287" y="516">0 - 9</text>
  <text class="ks" x="287" y="530">10 - 19</text>
  <text class="ks" x="287" y="543">20 - 29</text>
  <text class="ks" x="287" y="556">30 - 39</text>
  <text class="ks" x="287" y="569">40 - 49</text>
  <text class="ks" x="287" y="582">50 -</text>
  <rect x="329" y="509" width="71" height="9.5" fill="#d0ee55"/>
  <rect x="329" y="522" width="71" height="9.5" fill="#ffff00"/>
  <rect x="329" y="535" width="71" height="9.5" fill="#f5a431"/>
  <rect x="329" y="548" width="71" height="9.5" fill="#f26a2a"/>
  <rect x="329" y="560.5" width="71" height="9.5" fill="#ff0a0a"/>
  <rect x="329" y="573" width="71" height="9.5" fill="#a60b0b"/>
</g>
<g id="edge-color-code">
  <text class="kh" x="423" y="504">Edge Color Code</text>
  <text class="ks" x="423" y="519">86 - 90</text>
  <text class="ks" x="423" y="532">91 - 95</text>
  <text class="ks" x="423" y="545">96 - 00</text>
  <text class="ks" x="423" y="557">01 -</text>
  <rect x="467" y="511" width="72" height="9" fill="#f26a2a"/>
  <rect x="467" y="524" width="72" height="9.5" fill="#1aaa3a"/>
  <rect x="467" y="537" width="72" height="9" fill="#00e600"/>
  <rect x="467" y="550" width="72" height="9" fill="#90ee60"/>
  <text class="kh" x="421" y="578" style="font-size:10.5px">Displayed Year:</text>
  <text x="518" y="579" style="font-size:16px;fill:#000;transform:scaleX(1.1);transform-box:fill-box;transform-origin:0 0">1999</text>
</g>
<g id="title">
  <text class="ttl" x="697" y="523">Mapping the Evolution of</text>
  <text class="ttl" x="699" y="541">Co-Authorship Networks</text>
  <text class="sub" x="675" y="555">Weimao Ke, Lalitha Visvanath &amp; Katy Börner</text>
  <text class="sub" x="748" y="566">InfoVis Lab @ Indiana University</text>
  <text class="sub" x="917" y="577">2004</text>
</g>
</svg>
